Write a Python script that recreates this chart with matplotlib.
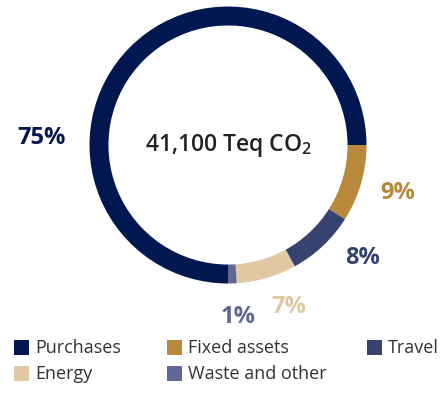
import matplotlib
matplotlib.use("Agg")
import matplotlib.pyplot as plt
from matplotlib.patches import Rectangle

# Emission breakdown
categories = ["Purchases", "Fixed assets", "Travel", "Energy", "Waste and other"]
shares = [75, 9, 8, 7, 1]
colors = ["#00174F", "#B8893A", "#36426F", "#E0C8A2", "#5E6796"]
total_label = "41,100 Teq CO$_2$"

FONT = "Open Sans"
plt.rcParams["font.family"] = [FONT, "DejaVu Sans"]
plt.rcParams["mathtext.fontset"] = "custom"
plt.rcParams["mathtext.rm"] = f"{FONT}:semibold"
plt.rcParams["mathtext.it"] = f"{FONT}:semibold"
plt.rcParams["mathtext.bf"] = f"{FONT}:bold"

W, H = 447, 398
fig = plt.figure(figsize=(W / 100, H / 100), dpi=100)

# donut placed in pixel space
cx, cy, r = 228, 145, 138.5
ax = fig.add_axes([(cx - r) / W, (H - cy - r) / H, 2 * r / W, 2 * r / H])
ax.pie(shares, colors=colors, startangle=-90, counterclock=False,
       radius=1.0, wedgeprops=dict(width=0.137, linewidth=0))
ax.set_xlim(-1, 1)
ax.set_ylim(-1, 1)
ax.set_aspect("auto")
ax.axis("off")

fig.text(228 / W, 1 - 146 / H, total_label, ha="center", va="center",
         fontsize=16.5, fontweight="semibold", color="#222222")

# percentage labels (pixel positions of label centres)
label_pos = [(42, 138), (398, 193), (363, 258), (289, 307), (238, 317)]
for val, col, (px, py) in zip(shares, colors, label_pos):
    fig.text(px / W, 1 - py / H, f"{val}%", ha="center", va="center",
             fontsize=17, fontweight="bold", color=col)

# legend, laid out in two rows of three columns
slots = [(14, 340), (167, 340), (367, 340), (14, 366), (167, 366)]
sq = 15
for idx, (px, py) in enumerate(slots):
    fig.patches.append(Rectangle((px / W, 1 - (py + sq) / H), sq / W, sq / H,
                                 transform=fig.transFigure, facecolor=colors[idx],
                                 edgecolor="none"))
    fig.text((px + sq + 6) / W, 1 - (py + sq / 2 + 0.5) / H, categories[idx],
             ha="left", va="center", fontsize=13, color="#333333")

fig.savefig("out.png", dpi=100)
